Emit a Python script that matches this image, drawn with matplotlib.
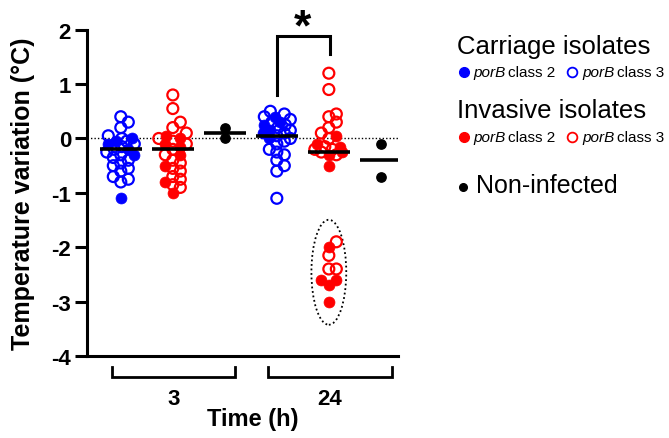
import numpy as np
import matplotlib
matplotlib.use("Agg")
import matplotlib.pyplot as plt
from matplotlib.lines import Line2D
from matplotlib.patches import Ellipse
import matplotlib.transforms as mtransforms

plt.rcParams['font.family'] = ['Liberation Sans', 'DejaVu Sans']

# data (temperature variation, °C)
carr_3h_c2 = [0.0, -0.05, -0.1, -0.2, -0.3, -1.1]
carr_3h_c3 = [0.4, 0.3, 0.2, 0.05, 0.0, -0.05, -0.1, -0.15, -0.2, -0.25, -0.3,
              -0.35, -0.4, -0.45, -0.5, -0.55, -0.6, -0.7, -0.75, -0.8]
inv_3h_c2 = [0.05, 0.0, -0.1, -0.15, -0.3, -0.5, -0.8, -1.0]
inv_3h_c3 = [0.8, 0.55, 0.3, 0.2, 0.1, 0.0, -0.05, -0.1, -0.2, -0.3, -0.4,
             -0.45, -0.55, -0.6, -0.7, -0.75, -0.85, -0.9]
non_3h = [0.2, 0.0]

carr_24h_c2 = [0.4, 0.3, 0.25, 0.15, 0.1, 0.0]
carr_24h_c3 = [0.5, 0.45, 0.4, 0.35, 0.3, 0.25, 0.2, 0.15, 0.1, 0.05, 0.0,
               -0.05, -0.1, -0.2, -0.25, -0.3, -0.4, -0.5, -0.6, -1.1]
inv_24h_c2 = [0.05, -0.1, -0.15, -0.25, -0.3, -0.5,
              -2.0, -2.6, -2.6, -2.7, -3.0]
inv_24h_c3 = [1.2, 0.9, 0.45, 0.4, 0.3, 0.2, 0.1, 0.0, -0.15, -0.2, -0.2,
              -0.25, -0.3, -1.9, -2.15, -2.4, -2.4]
non_24h = [-0.1, -0.7]

medians = [-0.2, -0.2, 0.1, 0.05, -0.25, -0.4]
time_labels = ["3", "24"]

BLUE = "#0000ff"
RED = "#ff0000"

PX_X = 52.0   # pixels per x unit
PX_Y = 54.3   # pixels per y unit


def swarm(values, d=7.5, step=2.5, maxw=14.0):
    """simple beeswarm, returns x offsets in data units"""
    values = np.asarray(values, dtype=float)
    order = np.argsort(values)
    placed = []
    offs = np.zeros(len(values))
    for i in order:
        y = values[i] * PX_Y
        k = 0
        best = None
        while k * step <= maxw:
            cands = [0.0] if k == 0 else [k * step, -k * step]
            for c in cands:
                if all((c - px) ** 2 + (y - py) ** 2 >= d ** 2 for px, py in placed):
                    best = c
                    break
            if best is not None:
                break
            k += 1
        if best is None:
            # no free slot inside the band: take the least crowded one
            slots = np.arange(-maxw, maxw + 0.1, step)
            score = [min((c - px) ** 2 + (y - py) ** 2 for px, py in placed) for c in slots]
            best = slots[int(np.argmax(score))]
        placed.append((best, y))
        offs[i] = best / PX_X
    return offs


fig = plt.figure(figsize=(6.69, 4.39), dpi=100)
ax = fig.add_axes([87 / 669, 1 - 357 / 439, (398 - 87) / 669, (357 - 30.7) / 439])

groups = [
    (0, carr_3h_c2, carr_3h_c3, BLUE),
    (1, inv_3h_c2, inv_3h_c3, RED),
    (3, carr_24h_c2, carr_24h_c3, BLUE),
    (4, inv_24h_c2, inv_24h_c3, RED),
]
for pos, filled, hollow, col in groups:
    allv = list(filled) + list(hollow)
    offs = swarm(allv)
    nf = len(filled)
    ax.scatter(pos + offs[nf:], hollow, s=62, facecolors='none', edgecolors=col,
               linewidths=1.6, zorder=3)
    ax.scatter(pos + offs[:nf], filled, s=62, color=col, edgecolors=col,
               linewidths=0.5, zorder=3)

for pos, vals in [(2, non_3h), (5, non_24h)]:
    ax.scatter([pos] * len(vals), vals, s=45, color='black', zorder=3)

for pos, m in enumerate(medians):
    ax.plot([pos - 0.4, pos + 0.4], [m, m], color='black', lw=2.6, zorder=4,
            solid_capstyle='butt')

ax.axhline(0, color='black', lw=1.0, ls=(0, (1, 1.5)), zorder=1)

# dotted ellipse around the low invasive cluster
ax.add_patch(Ellipse((4, -2.46), 0.67, 1.93, fill=False, ls=(0, (1, 1.5)),
                     lw=1.3, edgecolor='black', zorder=2))

# significance bracket
ax.plot([3.0, 3.0, 4.02, 4.02], [0.8, 1.88, 1.88, 1.55], color='black',
        lw=2.2, clip_on=False, solid_joinstyle='miter')
ax.text(3.5, 1.83, "*", ha='center', va='baseline', fontsize=32,
        fontweight='bold', clip_on=False)

ax.set_xlim(-0.65, 5.33)
ax.set_ylim(-4, 2)
ax.set_yticks(np.arange(-4, 3, 1))
ax.set_yticklabels([str(t) for t in range(-4, 3)])
ax.set_xticks([])
for s in ['top', 'right']:
    ax.spines[s].set_visible(False)
for s in ['left', 'bottom']:
    ax.spines[s].set_linewidth(2.2)
ax.tick_params(axis='y', width=2.2, length=8.5, labelsize=16, pad=3)
for lab in ax.get_yticklabels():
    lab.set_fontweight('bold')
ax.set_ylabel("Temperature variation (°C)", fontsize=18, fontweight='bold',
              labelpad=12)

# time brackets below the axis
trans = mtransforms.blended_transform_factory(ax.transData, ax.transAxes)
yb_top = -(368 - 357) / (357 - 30.7)
yb_bot = -(378 - 357) / (357 - 30.7)
for (x0, x1), lab in zip([(-0.17, 2.19), (2.83, 5.21)], time_labels):
    ax.plot([x0, x0, x1, x1], [yb_top, yb_bot, yb_bot, yb_top], color='black',
            lw=2.0, transform=trans, clip_on=False, solid_joinstyle='miter')
    ax.text((x0 + x1) / 2, -(400 - 357) / (357 - 30.7), lab, transform=trans,
            ha='center', va='center', fontsize=16, fontweight='bold')

fig.text(253 / 669, 1 - 420 / 439, "Time (h)", ha='center', va='center',
         fontsize=17, fontweight='bold')


# legend on the right
def fx(x):
    return x / 669


def fy(y):
    return 1 - y / 439


fig.text(fx(457), fy(47), "Carriage isolates", fontsize=18.5, va='center')
fig.text(fx(457), fy(111), "Invasive isolates", fontsize=18.5, va='center')

for yrow, col in [(73, BLUE), (138, RED)]:
    fig.add_artist(Line2D([fx(464)], [fy(yrow)], marker='o', ms=7, color=col,
                          transform=fig.transFigure))
    fig.add_artist(Line2D([fx(572)], [fy(yrow)], marker='o', ms=7, mfc='none',
                          mec=col, mew=1.3, transform=fig.transFigure))
    fig.text(fx(473), fy(yrow), "porB", fontsize=11, style='italic', va='center')
    fig.text(fx(508), fy(yrow), "class 2", fontsize=11, va='center')
    fig.text(fx(582), fy(yrow), "porB", fontsize=11, style='italic', va='center')
    fig.text(fx(617), fy(yrow), "class 3", fontsize=11, va='center')

fig.add_artist(Line2D([fx(463)], [fy(188)], marker='o', ms=5.5, color='black',
                      transform=fig.transFigure))
fig.text(fx(476), fy(186), "Non-infected", fontsize=18, va='center')

fig.savefig("out.png", dpi=100)
